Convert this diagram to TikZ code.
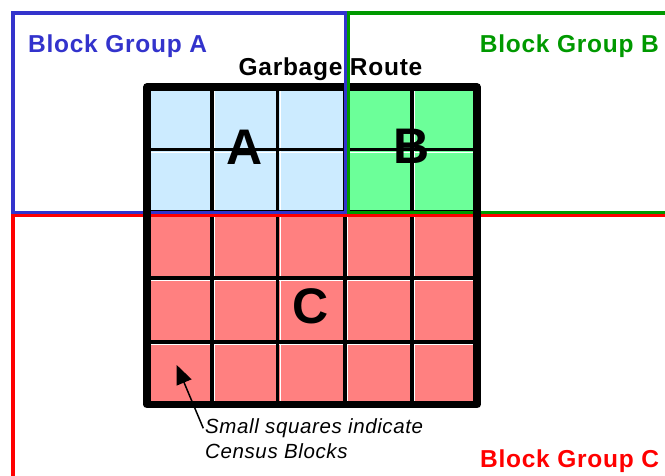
\documentclass[tikz,border=0pt]{standalone}
\usepackage{fontspec}
\setmainfont{Liberation Sans}
\newfontfamily\spacedsans[LetterSpace=3]{Liberation Sans}
\usetikzlibrary{arrows.meta}
\definecolor{bgA}{RGB}{51,51,204}
\definecolor{bgB}{RGB}{0,153,0}
\definecolor{bgC}{RGB}{255,0,0}
\definecolor{fillA}{RGB}{204,235,255}
\definecolor{fillB}{RGB}{108,255,153}
\definecolor{fillC}{RGB}{255,128,128}
\tikzset{
  grouplabel/.style={font=\spacedsans\fontsize{24.5}{28}\selectfont\bfseries, inner sep=0pt},
  routelabel/.style={font=\spacedsans\fontsize{24.5}{28}\selectfont\bfseries, inner sep=0pt},
  bigletter/.style={font=\fontsize{50}{56}\selectfont\bfseries, inner sep=0pt},
  notelabel/.style={font=\spacedsans\fontsize{20.5}{25}\selectfont\itshape, inner sep=0pt},
  gridline/.style={line width=3.8pt, black},
  cellgap/.style={line width=1pt, white},
  groupline/.style={line width=3.2pt},
  border/.style={line width=7.5pt, black, line join=round}
}
\begin{document}
\begin{tikzpicture}[x=1pt,y=-1pt]
\useasboundingbox (0,0) rectangle (665,475);
% grid positions (column and row lines)
\def\xa{147}\def\xb{211.7}\def\xc{277.5}\def\xd{345.3}\def\xe{411.7}\def\xf{477}
\def\ya{87}\def\yb{149.5}\def\yc{212.3}\def\yd{277.7}\def\ye{342.3}\def\yf{404.5}
% census block fills
\fill[fillA] (\xa,\ya) rectangle (\xd,\yc);
\fill[fillB] (\xd,\ya) rectangle (\xf,\yc);
\fill[fillC] (\xa,\yc) rectangle (\xf,\yf);
% thin white edges along each block
\foreach \x in {\xb,\xc,\xd,\xe} \draw[cellgap] (\x+2.6,\ya) -- (\x+2.6,\yf);
\foreach \y in {\yb,\yc,\yd,\ye} \draw[cellgap] (\xa,\y+2.6) -- (\xf,\y+2.6);
% inner grid
\foreach \x in {\xb,\xc,\xd,\xe} \draw[gridline] (\x,\ya) -- (\x,\yf);
\foreach \y in {\yb,\yc,\yd,\ye} \draw[gridline] (\xa,\y) -- (\xf,\y);
% block group outlines
\draw[groupline, bgC] (690,215.5) -- (13,215.5) -- (13,490);
\draw[groupline, bgB] (690,13) -- (348.3,13) -- (348.3,212.3) -- (690,212.3);
\draw[groupline, bgA] (13,212.3) rectangle (345.3,13);
% garbage route outline
\draw[border] (\xa,\ya) rectangle (\xf,\yf);
% vertical group edges pass over the route outline
\draw[groupline, bgA] (345.3,13) -- (345.3,212.3);
\draw[groupline, bgB] (348.3,13) -- (348.3,210.7);
% labels
\node[grouplabel, bgA, anchor=base west] (lblA) at (28,52.3) {Block Group A};
\node[grouplabel, bgB, anchor=base east] (lblB) at (659,52.3) {Block Group B};
\node[grouplabel, bgC, anchor=base east] (lblC) at (659.3,467.7) {Block Group C};
\node[routelabel, anchor=base] (route) at (330.5,75) {Garbage Route};
\node[bigletter] (letA) at (245,147.3) {A};
\node[bigletter] (letB) at (411.2,146.2) {B};
\node[bigletter] (letC) at (311,305.8) {C};
\node[notelabel, anchor=base west] (note1) at (205,433.3) {Small squares indicate};
\node[notelabel, anchor=base west] (note2) at (205,458.3) {Census Blocks};
% pointer to one census block
\coordinate (tail) at (203.3,428.3);
\coordinate (tip) at (176.7,365);
\draw[line width=1.5pt, -{Triangle[length=19pt,width=16pt]}] (tail) -- (tip);
\end{tikzpicture}
\end{document}
